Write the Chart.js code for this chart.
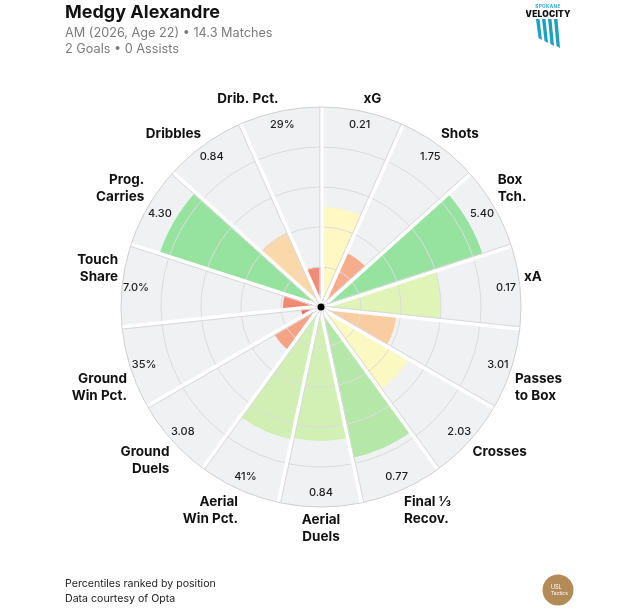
<!DOCTYPE html>
<html>
<head>
<meta charset="utf-8">
<script src="https://cdn.jsdelivr.net/npm/chart.js@4.4.1/dist/chart.umd.min.js"></script>
<style>
  html, body { margin: 0; padding: 0; background: #ffffff; }
  body { width: 642px; height: 610px; position: relative; overflow: hidden; font-family: Inter, "Noto Sans", sans-serif; }
  #c { position: absolute; left: 0; top: 0; }
  .t { position: absolute; white-space: nowrap; }
  #title { left: 65px; top: 1px; font-size: 18px; font-weight: 700; color: #111; line-height: 22px; }
  #sub1 { left: 65px; top: 25px; font-size: 12.7px; color: #7b7b7b; line-height: 16px; }
  #sub2 { left: 65px; top: 41px; font-size: 12.7px; color: #7b7b7b; line-height: 16px; }
  #foot1 { left: 65px; top: 577px; font-size: 10.6px; color: #222; line-height: 14px; }
  #foot2 { left: 65px; top: 592px; font-size: 10.6px; color: #222; line-height: 14px; }
</style>
</head>
<body>
<canvas id="c" width="642" height="610"></canvas>
<div class="t" id="title">Medgy Alexandre</div>
<div class="t" id="sub1">AM (2026, Age 22) • 14.3 Matches</div>
<div class="t" id="sub2">2 Goals • 0 Assists</div>
<div class="t" id="foot1">Percentiles ranked by position</div>
<div class="t" id="foot2">Data courtesy of Opta</div>

<svg style="position:absolute;left:526px;top:0px" width="44" height="50" viewBox="0 0 44 50">
  <text x="22" y="8" font-size="4.6" font-weight="700" fill="#2aa6c8" text-anchor="middle" font-family="Inter" letter-spacing="0.4">SPOKANE</text>
  <text x="22" y="16.5" font-size="8.4" font-weight="900" fill="#111" text-anchor="middle" font-family="Inter" letter-spacing="0.2">VELOCITY</text>
  <polygon points="10,19 13.5,19 16,40 12.5,38" fill="#1e9fc4"/>
  <polygon points="16,19 19.5,19 22,43 18.5,41" fill="#1e9fc4"/>
  <polygon points="22,19 25.5,19 28,46 24.5,44" fill="#1e9fc4"/>
  <polygon points="28,19 31.5,19 34,48 30.5,46" fill="#1e9fc4"/>
</svg>

<svg style="position:absolute;left:542px;top:574px" width="32" height="32" viewBox="0 0 32 32">
  <circle cx="16" cy="16" r="15.5" fill="#b38b58"/>
  <text x="9" y="15" font-size="5.5" fill="#fff" font-family="Inter">USL</text>
  <text x="9" y="21" font-size="5" fill="#fff" font-family="Inter">Tactics</text>
</svg>

<script>
// ---- data ----
const categories = [
  ['xG'], ['Shots'], ['Box', 'Tch.'], ['xA'], ['Passes', 'to Box'], ['Crosses'],
  ['Final ⅓', 'Recov.'], ['Aerial', 'Duels'], ['Aerial', 'Win Pct.'], ['Ground', 'Duels'],
  ['Ground', 'Win Pct.'], ['Touch', 'Share'], ['Prog.', 'Carries'], ['Dribbles'], ['Drib. Pct.']
];
const percentiles = [50, 30, 85, 60, 38, 51, 77, 67, 68, 27, 10, 19, 85, 41, 20];
const rawValues = ['0.21', '1.75', '5.40', '0.17', '3.01', '2.03', '0.77', '0.84', '41%', '3.08', '35%', '7.0%', '4.30', '0.84', '29%'];
const fullScale = [100, 100, 100, 100, 100, 100, 100, 100, 100, 100, 100, 100, 100, 100, 100];
const tickStep = 20;

// ---- colour map (percentile -> colour) ----
const colorStops = [
  [0, [234, 79, 69]], [10, [239, 106, 90]], [20, [243, 140, 118]], [30, [247, 172, 140]],
  [40, [251, 212, 166]], [50, [255, 248, 194]], [60, [224, 244, 184]], [70, [205, 238, 178]],
  [78, [177, 231, 166]], [85, [150, 227, 160]], [100, [127, 219, 142]]
];
function colorFor(v) {
  for (let i = 1; i < colorStops.length; i++) {
    const [p1, c1] = colorStops[i];
    const [p0, c0] = colorStops[i - 1];
    if (v <= p1) {
      const t = (v - p0) / (p1 - p0);
      const c = c0.map((a, k) => Math.round(a + (c1[k] - a) * t));
      return `rgb(${c[0]},${c[1]},${c[2]})`;
    }
  }
  const c = colorStops[colorStops.length - 1][1];
  return `rgb(${c[0]},${c[1]},${c[2]})`;
}

const labelsPlugin = {
  id: 'pizzaLabels',
  afterDraw(chart) {
    const scale = chart.scales.r;
    const ctx = chart.ctx;
    const n = categories.length;
    const cx = scale.xCenter, cy = scale.yCenter, R = scale.drawingArea;
    ctx.save();
    // separators: white band + grey angle line at each segment boundary
    for (let i = 0; i < n; i++) {
      const end = scale.getPointPosition(i, R - 0.6);
      const phi = end.angle; // canvas angle
      const vx = -Math.sin(phi), vy = Math.cos(phi); // clockwise perpendicular
      const off = 1.1;
      ctx.beginPath();
      ctx.moveTo(cx + vx * off, cy + vy * off);
      ctx.lineTo(end.x + vx * off, end.y + vy * off);
      ctx.strokeStyle = '#ffffff';
      ctx.lineWidth = 3.5;
      ctx.stroke();
      const g = -1.2;
      const endG = scale.getPointPosition(i, R);
      ctx.beginPath();
      ctx.moveTo(cx + vx * g, cy + vy * g);
      ctx.lineTo(endG.x + vx * g, endG.y + vy * g);
      ctx.strokeStyle = '#d9d9dc';
      ctx.lineWidth = 1;
      ctx.stroke();
    }
    // value labels
    ctx.font = '500 11px Inter, "Noto Sans", sans-serif';
    ctx.fillStyle = '#1e1e1e';
    ctx.textAlign = 'center';
    ctx.textBaseline = 'middle';
    for (let i = 0; i < n; i++) {
      const p = scale.getPointPosition(i + 0.5, R * 0.93);
      ctx.fillText(rawValues[i], p.x, p.y);
    }
    // category labels
    ctx.font = '700 13.5px Inter, "Noto Sans", sans-serif';
    ctx.fillStyle = '#111';
    const lh = 17;
    for (let i = 0; i < n; i++) {
      const p = scale.getPointPosition(i + 0.5, R + 4);
      let deg = (p.angle + Math.PI / 2) * 180 / Math.PI;
      deg = ((deg % 360) + 360) % 360;
      let align;
      if (Math.abs(deg - 180) < 0.5 || deg < 0.5 || deg > 359.5) align = 'center';
      else align = deg < 180 ? 'left' : 'right';
      const lines = categories[i];
      const h = lines.length * lh;
      let top;
      if (Math.abs(deg - 90) < 0.5 || Math.abs(deg - 270) < 0.5) top = p.y - h / 2;
      else if (deg > 270 || deg < 90) top = p.y - h;
      else top = p.y;
      ctx.textAlign = align;
      ctx.textBaseline = 'middle';
      lines.forEach((l, k) => ctx.fillText(l, p.x, top + lh * (k + 0.5)));
    }
    // centre dot
    ctx.beginPath();
    ctx.arc(cx, cy, 3.5, 0, Math.PI * 2);
    ctx.fillStyle = '#000';
    ctx.fill();
    ctx.restore();
  }
};

new Chart(document.getElementById('c'), {
  type: 'polarArea',
  data: {
    labels: categories,
    datasets: [
      {
        data: percentiles,
        backgroundColor: percentiles.map(colorFor),
        borderWidth: 0
      },
      {
        data: fullScale,
        backgroundColor: '#f0f1f3',
        borderWidth: 0
      }
    ]
  },
  options: {
    responsive: false,
    animation: false,
    layout: { padding: { left: 121, right: 121, top: 107, bottom: 103 } },
    plugins: { legend: { display: false }, tooltip: { enabled: false } },
    scales: {
      r: {
        min: 0,
        max: 100,
        startAngle: 0,
        ticks: { display: false, stepSize: tickStep },
        grid: {
          z: 1,
          color: (c) => (c.tick && c.tick.value === 100 ? '#cfcfd2' : '#dcdcdf'),
          lineWidth: 1
        },
        angleLines: { display: false },
        pointLabels: { display: false }
      }
    }
  },
  plugins: [labelsPlugin]
});
</script>
</body>
</html>
